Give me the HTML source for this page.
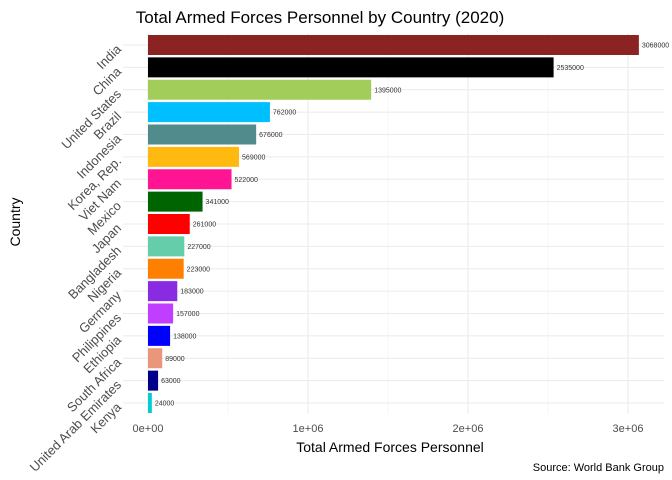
<!DOCTYPE html>
<html><head><meta charset="utf-8"><style>
body{margin:0;background:#fff;}
svg{display:block;font-family:"Liberation Sans",sans-serif;}
</style></head><body>
<svg id="chart" width="672" height="480">
<text x="320" y="23" text-anchor="middle" font-size="17" fill="#000">Total Armed Forces Personnel by Country (2020)</text>
<text x="390" y="452" text-anchor="middle" font-size="14" fill="#000">Total Armed Forces Personnel</text>
<text transform="translate(20,222) rotate(-90)" text-anchor="middle" font-size="14" fill="#000">Country</text>
<text x="664" y="471" text-anchor="end" font-size="11" fill="#000">Source: World Bank Group</text>
<g id="grid"></g><g id="bars"></g><g id="labels"></g><g id="ticks"></g>
</svg>
<script>
const countries=["India","China","United States","Brazil","Indonesia","Korea, Rep.","Viet Nam","Mexico","Japan","Bangladesh","Nigeria","Germany","Philippines","Ethiopia","South Africa","United Arab Emirates","Kenya"];
const values=[3068000,2535000,1395000,762000,676000,569000,522000,341000,261000,227000,223000,183000,157000,138000,89000,63000,24000];
const colors=["#8B2323","#000000","#A2CD5A","#00BFFF","#528B8B","#FFB90F","#FF1493","#006400","#FF0000","#66CDAA","#FF7F00","#8A2BE2","#BF3EFF","#0000FF","#E9967A","#00008B","#00CED1"];
const xTicks=[0,1000000,2000000,3000000];
const xTickLabels=["0e+00","1e+06","2e+06","3e+06"];
const NS="http://www.w3.org/2000/svg";
const x=v=>148+v*160/1e6;
const y=i=>45+i*22.375;
const bh=20;
function mk(t,a,p){const e=document.createElementNS(NS,t);for(const k in a)e.setAttribute(k,a[k]);document.getElementById(p).appendChild(e);return e;}
// grid
for(let m=0.5e6;m<3.3e6;m+=1e6){const g=mk('line',{x1:x(m),x2:x(m),y1:33,y2:414,stroke:'#f2f2f2','stroke-width':0.6},'grid');

}
xTicks.forEach((t,i)=>{const g=mk('line',{x1:x(t),x2:x(t),y1:33,y2:414,stroke:'#ebebeb','stroke-width':1.1},'grid');


const l=mk('text',{x:x(t),y:432,'text-anchor':'middle','font-size':11,fill:'#4d4d4d'},'ticks');l.textContent=xTickLabels[i];

});
countries.forEach((c,i)=>{
const g=mk('line',{x1:123,x2:664,y1:y(i),y2:y(i),stroke:'#ebebeb','stroke-width':1.1},'grid');


const r=mk('rect',{x:x(0),y:y(i)-bh/2,width:x(values[i])-x(0),height:bh,fill:colors[i]},'bars');


const v=mk('text',{x:x(values[i])+3,y:y(i)+2.5,'font-size':7,fill:'#333'},'labels');v.textContent=values[i];


const l=mk('text',{transform:`translate(122,${y(i)+5}) rotate(-45)`,'text-anchor':'end','font-size':13,fill:'#4d4d4d'},'ticks');l.textContent=c;


});
</script>
</body></html>
